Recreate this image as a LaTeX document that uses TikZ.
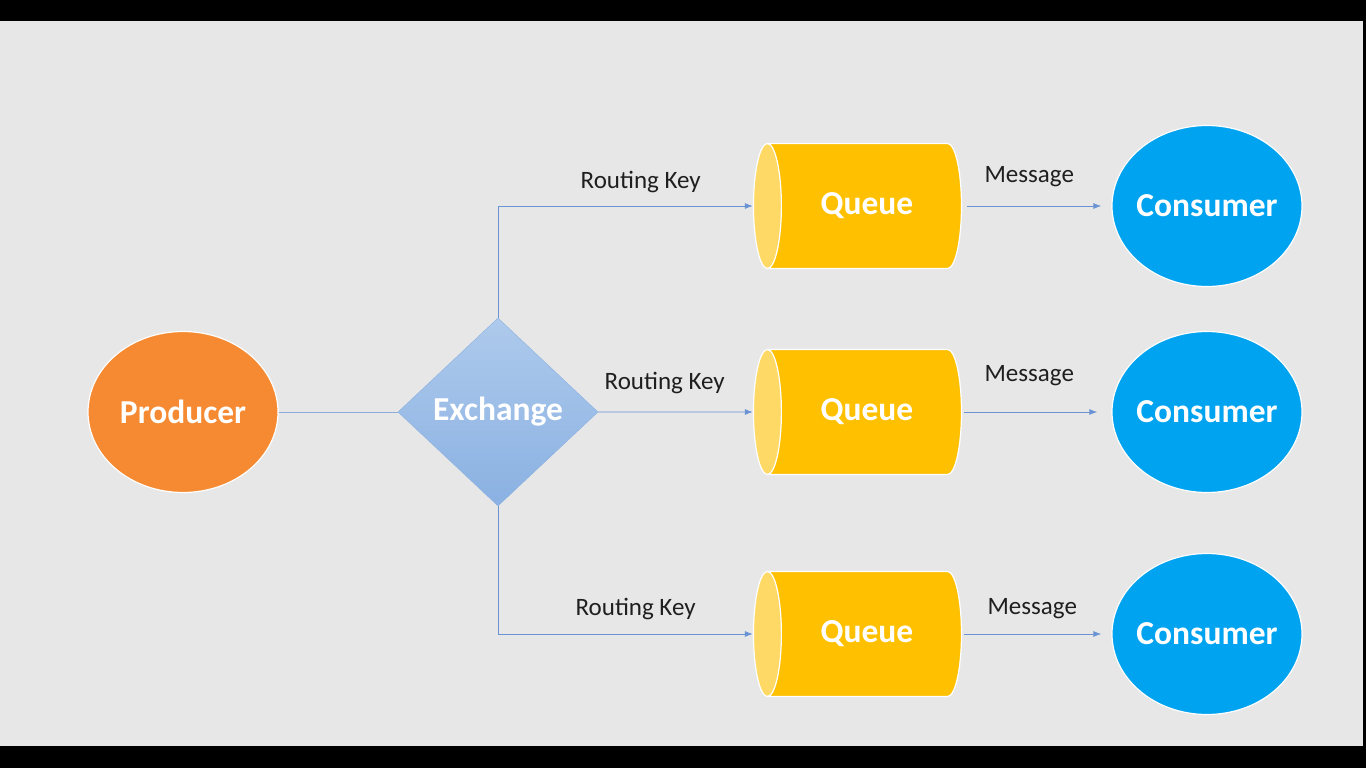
\documentclass[tikz,border=0pt]{standalone}
\usepackage{fontspec}
\setmainfont{Carlito}
\usetikzlibrary{shapes.geometric, arrows.meta, positioning}

\definecolor{bg}{HTML}{E7E7E7}
\definecolor{prodorange}{HTML}{F68A33}
\definecolor{consblue}{HTML}{00A3EF}
\definecolor{qbody}{HTML}{FFC000}
\definecolor{qcap}{HTML}{FFD966}
\definecolor{xtop}{HTML}{AECAEC}
\definecolor{xbot}{HTML}{8AB1E2}
\definecolor{wire}{HTML}{6A93D4}
\definecolor{wirelight}{HTML}{8FAADC}

\begin{document}
\begin{tikzpicture}[x=1pt, y=-1pt, auto, on grid, >={Latex[length=8pt,width=6pt]}]
  \tikzstyle{big} = [text=white, font=\fontsize{33.5}{40}\selectfont\bfseries]
  \tikzstyle{ball} = [big, ellipse, draw=white, line width=1.2pt, inner xsep=-10pt,
                      minimum width=190pt, minimum height=161pt]
  \tikzstyle{tube} = [big, cylinder, shape border rotate=180, aspect=0.85, draw=white, line width=1.2pt,
                      cylinder uses custom fill, cylinder body fill=qbody, cylinder end fill=qcap,
                      minimum width=125pt, minimum height=208pt]
  \tikzstyle{hub} = [big, diamond, draw=xbot, top color=xtop, bottom color=xbot,
                     minimum width=200pt, minimum height=188pt, inner sep=0pt]
  \tikzstyle{tag} = [font=\fontsize{25}{30}\selectfont, text=black!88]
  \tikzstyle{link} = [draw=wire, line width=0.9pt, ->]

  % frame
  \fill[black] (0,0) rectangle (1366,768);
  \fill[bg] (0,21) rectangle (1363,746);

  \node [ball, fill=prodorange] (producer) at (183,412) {Producer};
  \node [hub, right=315pt of producer] (exchange) {Exchange};
  \node [tube, right=369pt of exchange] (queue2) {Queue};
  \node [tube, above=206pt of queue2] (queue1) {Queue};
  \node [tube, below=222pt of queue2] (queue3) {Queue};
  \node [ball, fill=consblue, right=709pt of exchange] (consumer2) {Consumer};
  \node [ball, fill=consblue, above=206pt of consumer2] (consumer1) {Consumer};
  \node [ball, fill=consblue, below=222pt of consumer2] (consumer3) {Consumer};

  \draw [draw=wirelight, line width=0.9pt] (producer) -- (exchange);

  \draw [link] (exchange.north) |- node [tag, pos=0.78, above=9.5pt] (key1) {Routing Key} (queue1.west);
  \draw [link] (exchange.east) -- node [tag, pos=0.43, above=14.5pt] (key2) {Routing Key} (queue2.west);
  \draw [link] (exchange.south) |- node [tag, pos=0.77, above=10.5pt] (key3) {Routing Key} (queue3.west);

  \draw [link, shorten <=5pt, shorten >=10pt] (queue1.east) -- node [tag, pos=0.45, above=15.5pt] (msg1) {Message} (consumer1.west);
  \draw [link, shorten <=2pt, shorten >=14pt] (queue2.east) -- node [tag, pos=0.45, above=22.5pt] (msg2) {Message} (consumer2.west);
  \draw [link, shorten <=2pt, shorten >=10pt] (queue3.east) -- node [tag, pos=0.47, above=11.5pt] (msg3) {Message} (consumer3.west);
\end{tikzpicture}
\end{document}
